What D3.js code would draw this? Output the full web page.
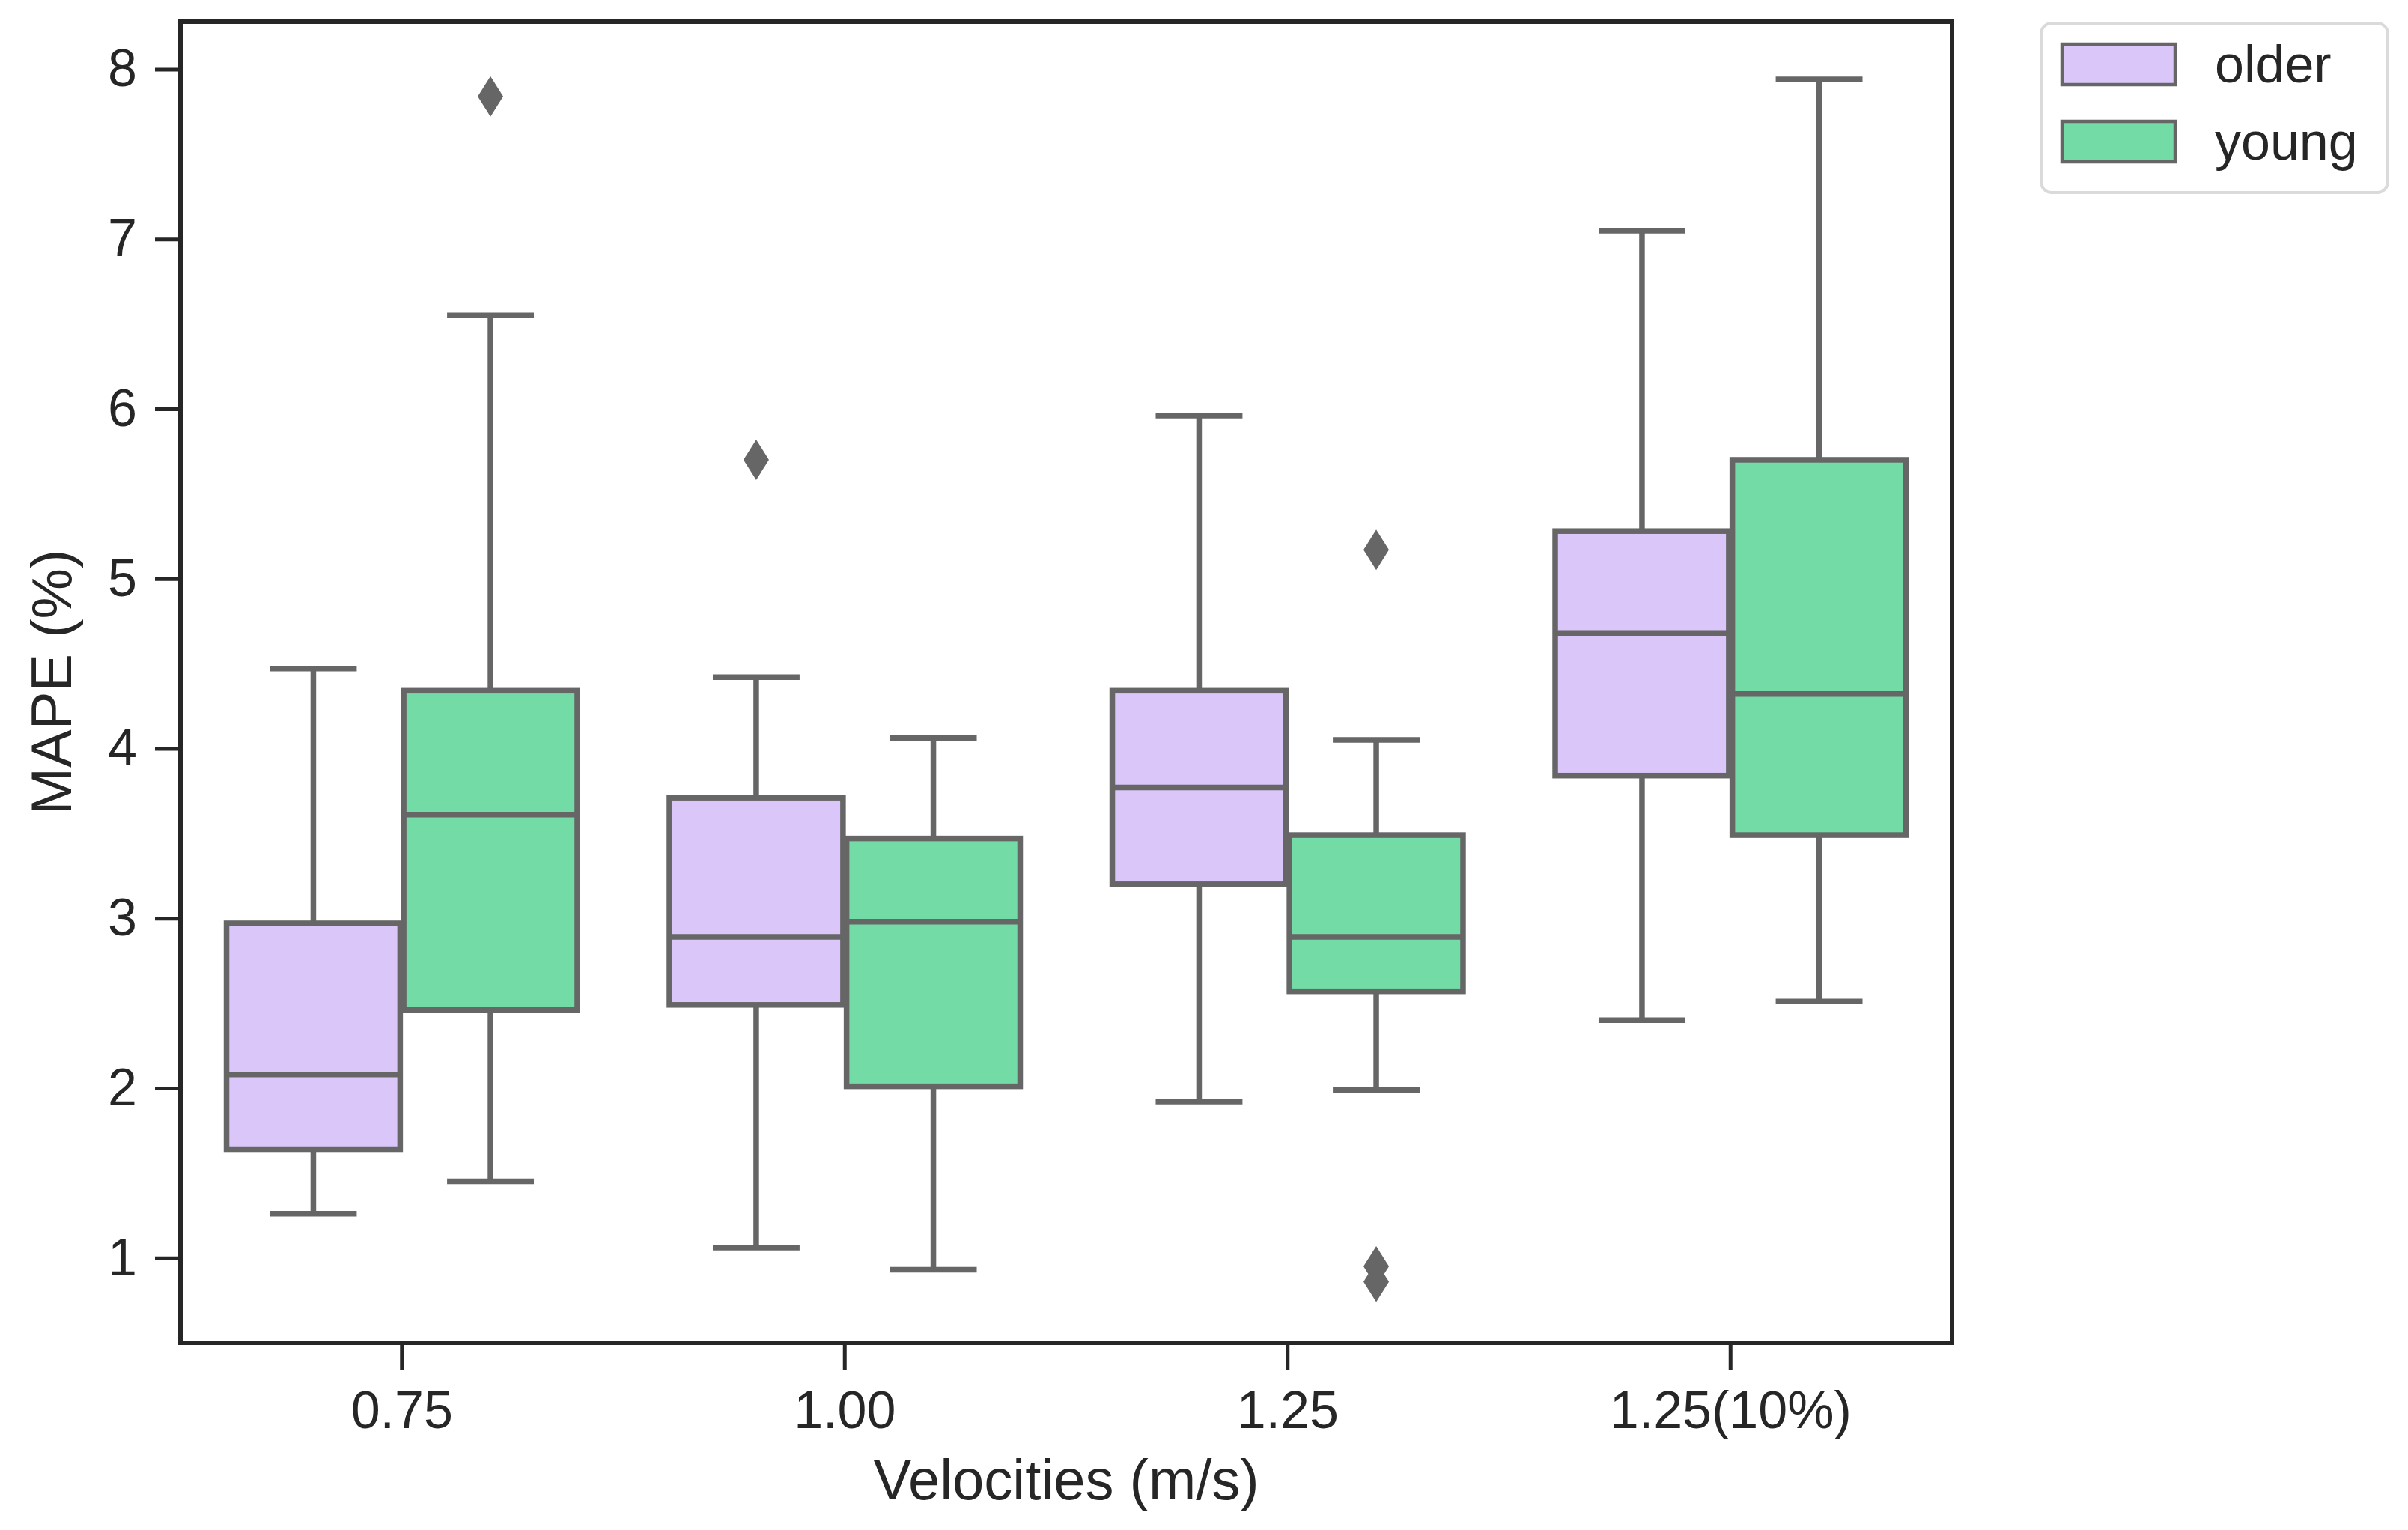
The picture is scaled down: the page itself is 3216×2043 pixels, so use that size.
<!DOCTYPE html>
<html>
<head>
<meta charset="utf-8">
<script src="https://cdn.jsdelivr.net/npm/d3@7"></script>
<style>
  body { margin: 0; background: #fff; }
  text { font-family: Arial, "Liberation Sans", sans-serif; fill: #262626; }
</style>
</head>
<body>
<svg class="box-svg" width="3216" height="2043"></svg>
<script>
// Categories and groups
var categories = ["0.75", "1.00", "1.25", "1.25(10%)"];
var groups = ["older", "young"];
var yTicks = [1, 2, 3, 4, 5, 6, 7, 8];

// Box stats (per category)
var olderLow  = [1.26, 1.06, 1.92, 2.40];
var olderQ1   = [1.64, 2.49, 3.20, 3.84];
var olderMed  = [2.08, 2.89, 3.77, 4.68];
var olderQ3   = [2.97, 3.71, 4.34, 5.28];
var olderHigh = [4.47, 4.42, 5.96, 7.05];
var olderOut  = [[], [5.70], [], []];

var youngLow  = [1.45, 0.93, 1.99, 2.51];
var youngQ1   = [2.46, 2.01, 2.57, 3.49];
var youngMed  = [3.61, 2.98, 2.89, 4.32];
var youngQ3   = [4.34, 3.47, 3.49, 5.70];
var youngHigh = [6.55, 4.06, 4.05, 7.94];
var youngOut  = [[7.84], [], [5.17, 0.95, 0.86], []];

var colors = {"older": "#dac6f9", "young": "#72dba6"};
var lineColor = "#666666";
var lw = 7.5;

var svg = d3.select(".box-svg");
var margin = {top: 29, right: 609, bottom: 250, left: 241};
var width = 3216 - margin.left - margin.right;
var height = 2043 - margin.top - margin.bottom;

var x = d3.scaleBand().domain(categories).range([0, width]).padding(0);
var xHue = d3.scaleBand().domain(groups).range([0, x.bandwidth() * 0.8]);
var y = d3.scaleLinear().domain([0.5, 8.28]).range([height, 0]);

// Build rows for drawing
var boxes = [];
categories.forEach(function(c, i) {
    boxes.push({cat: c, group: "older", low: olderLow[i], q1: olderQ1[i], med: olderMed[i], q3: olderQ3[i], high: olderHigh[i], out: olderOut[i]});
    boxes.push({cat: c, group: "young", low: youngLow[i], q1: youngQ1[i], med: youngMed[i], q3: youngQ3[i], high: youngHigh[i], out: youngOut[i]});
});

var chart = svg.append("g")
    .attr("transform", "translate(" + margin.left + "," + margin.top + ")");

function boxLeft(d) {
    return x(d.cat) + x.bandwidth() * 0.1 + xHue(d.group) + xHue.bandwidth() * 0.01;
}
var boxW = xHue.bandwidth() * 0.98;
function boxMid(d) { return boxLeft(d) + boxW / 2; }

var g = chart.selectAll(".box").data(boxes).enter().append("g").attr("class", "box");

// Whiskers
g.append("line")
    .attr("x1", boxMid).attr("x2", boxMid)
    .attr("y1", function(d) { return y(d.q3); })
    .attr("y2", function(d) { return y(d.high); })
    .attr("stroke", lineColor).attr("stroke-width", lw);
g.append("line")
    .attr("x1", boxMid).attr("x2", boxMid)
    .attr("y1", function(d) { return y(d.q1); })
    .attr("y2", function(d) { return y(d.low); })
    .attr("stroke", lineColor).attr("stroke-width", lw);

// Caps
["high", "low"].forEach(function(k) {
    g.append("line")
        .attr("x1", function(d) { return boxMid(d) - boxW / 4; })
        .attr("x2", function(d) { return boxMid(d) + boxW / 4; })
        .attr("y1", function(d) { return y(d[k]); })
        .attr("y2", function(d) { return y(d[k]); })
        .attr("stroke", lineColor).attr("stroke-width", lw);
});

// Boxes
g.append("rect")
    .attr("x", boxLeft)
    .attr("width", boxW)
    .attr("y", function(d) { return y(d.q3); })
    .attr("height", function(d) { return y(d.q1) - y(d.q3); })
    .attr("fill", function(d) { return colors[d.group]; })
    .attr("stroke", lineColor).attr("stroke-width", lw);

// Median
g.append("line")
    .attr("x1", boxLeft)
    .attr("x2", function(d) { return boxLeft(d) + boxW; })
    .attr("y1", function(d) { return y(d.med); })
    .attr("y2", function(d) { return y(d.med); })
    .attr("stroke", lineColor).attr("stroke-width", lw);

// Outliers (thin diamonds)
g.selectAll(".out")
    .data(function(d) { return d.out.map(function(v) { return {v: v, x: boxMid(d)}; }); })
    .enter().append("path")
    .attr("class", "out")
    .attr("d", function(o) {
        var cx = o.x, cy = y(o.v);
        return "M" + cx + "," + (cy - 27) + "L" + (cx + 17) + "," + cy + "L" + cx + "," + (cy + 27) + "L" + (cx - 17) + "," + cy + "Z";
    })
    .attr("fill", lineColor);

// Axes
var yAxis = chart.append("g")
    .call(d3.axisLeft(y).tickValues(yTicks).tickFormat(d3.format("d")).tickSize(34).tickPadding(24));
var xAxis = chart.append("g")
    .attr("transform", "translate(0," + height + ")")
    .call(d3.axisBottom(x).tickSize(36).tickPadding(28));

[yAxis, xAxis].forEach(function(a) {
    a.select(".domain").remove();
    a.selectAll(".tick line").attr("stroke", "#262626").attr("stroke-width", 5);
    a.selectAll(".tick text").style("font-size", "70px").attr("fill", "#262626");
});

// Frame
chart.append("rect")
    .attr("x", 0).attr("y", 0)
    .attr("width", width).attr("height", height)
    .attr("fill", "none")
    .attr("stroke", "#262626").attr("stroke-width", 6);

// Axis labels
svg.append("text")
    .attr("transform", "translate(" + (margin.left + width / 2) + ",2002)")
    .style("text-anchor", "middle")
    .style("font-size", "76px")
    .text("Velocities (m/s)");

svg.append("text")
    .attr("transform", "translate(95," + (margin.top + height / 2) + ") rotate(-90)")
    .style("text-anchor", "middle")
    .style("font-size", "76px")
    .text("MAPE (%)");

// Legend
var legend = svg.append("g").attr("transform", "translate(2726,31)");
legend.append("rect")
    .attr("width", 463).attr("height", 226)
    .attr("rx", 14).attr("ry", 14)
    .attr("fill", "#fff")
    .attr("stroke", "#dadada").attr("stroke-width", 4);

var item = legend.selectAll(".item").data(groups).enter().append("g")
    .attr("class", "item")
    .attr("transform", function(d, i) { return "translate(0," + (i * 103) + ")"; });
item.append("rect")
    .attr("x", 28).attr("y", 28)
    .attr("width", 151).attr("height", 54)
    .attr("fill", function(d) { return colors[d]; })
    .attr("stroke", lineColor).attr("stroke-width", 4.5);
item.append("text")
    .attr("x", 232).attr("y", 79)
    .style("font-size", "70px")
    .text(function(d) { return d; });
</script>
</body>
</html>
